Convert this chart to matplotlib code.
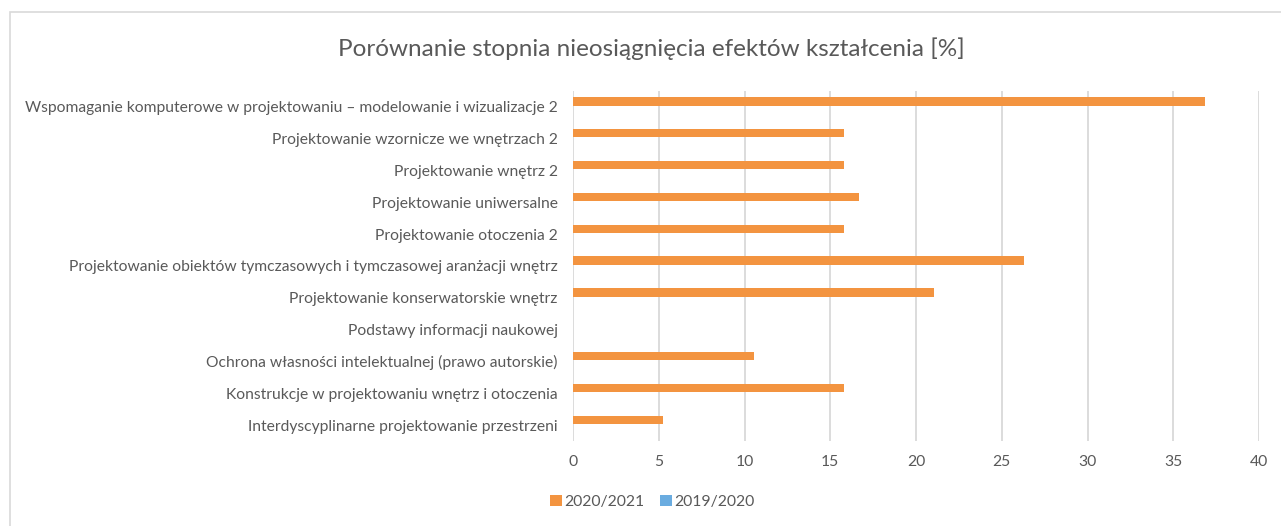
import numpy as np
import matplotlib.pyplot as plt
from matplotlib.patches import Rectangle

# data
categories = [
    "Wspomaganie komputerowe w projektowaniu – modelowanie i wizualizacje 2",
    "Projektowanie wzornicze we wnętrzach 2",
    "Projektowanie wnętrz 2",
    "Projektowanie uniwersalne",
    "Projektowanie otoczenia 2",
    "Projektowanie obiektów tymczasowych i tymczasowej aranżacji wnętrz",
    "Projektowanie konserwatorskie wnętrz",
    "Podstawy informacji naukowej",
    "Ochrona własności intelektualnej (prawo autorskie)",
    "Konstrukcje w projektowaniu wnętrz i otoczenia",
    "Interdyscyplinarne projektowanie przestrzeni",
]
vals_2021 = [36.84, 15.79, 15.79, 16.67, 15.79, 26.32, 21.05, 0.0, 10.53, 15.79, 5.26]
vals_2020 = [0, 0, 0, 0, 0, 0, 0, 0, 0, 0, 0]
series_names = ["2020/2021", "2019/2020"]
x_ticks = [0, 5, 10, 15, 20, 25, 30, 35, 40]

ORANGE = '#F39440'
BLUE = '#6AACE0'
TXT = '#595959'

plt.rcParams['font.family'] = ['Lato', 'DejaVu Sans']

fig = plt.figure(figsize=(12.81, 5.26), dpi=100)
ax = fig.add_axes([573/1281, 1-441/526, (1259-573)/1281, (441-91)/526])

y = np.arange(len(categories))
h = 0.26
off = 0.17
ax.barh(y - off, vals_2021, height=h, color=ORANGE, label=series_names[0], zorder=3)
ax.barh(y + off, vals_2020, height=h, color=BLUE, label=series_names[1], zorder=3)

ax.set_ylim(len(categories) - 0.5, -0.5)
ax.set_xlim(0, 40)
ax.set_xticks(x_ticks)
ax.set_yticks(y)
ax.set_yticklabels(categories, fontsize=11.25, color=TXT)
ax.tick_params(axis='x', labelsize=11.3, labelcolor=TXT, length=0, pad=10)
ax.tick_params(axis='y', length=0, pad=11)
ax.grid(axis='x', color='#D9D9D9', linewidth=1.3, zorder=0)
for s in ax.spines.values():
    s.set_visible(False)

fig.text(651/1281, 1-49/526, "Porównanie stopnia nieosiągnięcia efektów kształcenia [%]",
         ha='center', va='center', fontsize=17.5, color=TXT)

fig.legend(loc='center', bbox_to_anchor=(652/1281, 1-502/526), ncol=2, frameon=False,
           fontsize=11.3, labelcolor=TXT, handlelength=0.75, handleheight=0.75,
           handletextpad=0.15, columnspacing=1.0)

fig.patches.append(Rectangle((10/1281, -0.05), 1.0, 1-12/526 + 0.05, transform=fig.transFigure,
                             fill=False, edgecolor='#D9D9D9', linewidth=1.2))

fig.savefig('out.png', dpi=100)
